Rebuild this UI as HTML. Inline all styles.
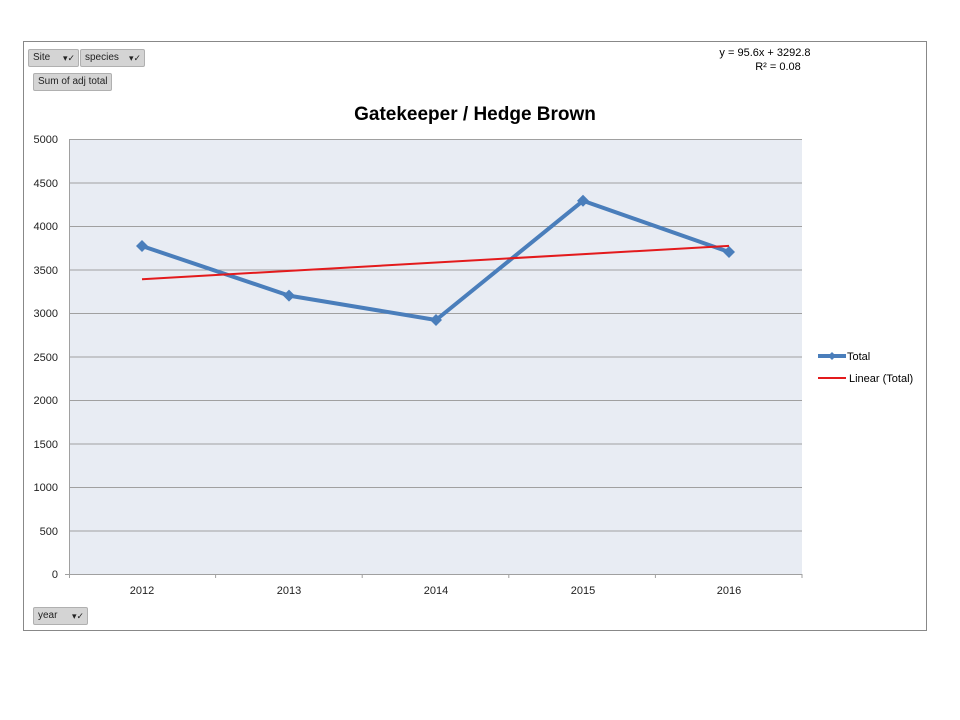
<!DOCTYPE html>
<html><head><style>
body{margin:0;background:#fff;width:960px;height:720px;position:relative;font-family:"Liberation Sans",sans-serif;overflow:hidden}
.b{position:absolute;background:#d4d4d4;border:1px solid #b0b0b0;border-radius:2px;font-size:10px;line-height:16px;padding-left:4px;box-sizing:border-box;color:#222}
.b i{position:absolute;right:3px;top:0;font-style:normal;font-size:9px}
</style></head><body>
<div style="position:absolute;left:23px;top:41px;width:904px;height:590px;border:1px solid #888;box-sizing:border-box"></div>
<div class="b" style="left:28px;top:49px;width:51px;height:18px">Site<i>▾✓</i></div>
<div class="b" style="left:80px;top:49px;width:65px;height:18px">species<i>▾✓</i></div>
<div class="b" style="left:33px;top:73px;width:79px;height:18px">Sum of adj total</div>
<div class="b" style="left:33px;top:607px;width:55px;height:18px">year<i>▾✓</i></div>
<svg width="960" height="720" style="position:absolute;left:0;top:0" font-family="Liberation Sans, sans-serif">
<text x="765" y="56" font-size="11" text-anchor="middle">y = 95.6x + 3292.8</text>
<text x="778" y="70" font-size="11" text-anchor="middle">R² = 0.08</text>
<text x="475" y="120" font-size="19" font-weight="bold" text-anchor="middle">Gatekeeper / Hedge Brown</text>
<rect x="69" y="139" width="733" height="435" fill="#e8ecf3"/>
<g stroke="#a0a0a0" stroke-width="1">
<line x1="69" x2="802" y1="139.5" y2="139.5"/><line x1="69" x2="802" y1="183" y2="183"/><line x1="69" x2="802" y1="226.5" y2="226.5"/><line x1="69" x2="802" y1="270" y2="270"/><line x1="69" x2="802" y1="313.5" y2="313.5"/><line x1="69" x2="802" y1="357" y2="357"/><line x1="69" x2="802" y1="400.5" y2="400.5"/><line x1="69" x2="802" y1="444" y2="444"/><line x1="69" x2="802" y1="487.5" y2="487.5"/><line x1="69" x2="802" y1="531" y2="531"/>
<line x1="69.5" x2="69.5" y1="139" y2="578"/><line x1="65" x2="802" y1="574.5" y2="574.5"/>
<line x1="215.6" x2="215.6" y1="574" y2="578"/><line x1="362.2" x2="362.2" y1="574" y2="578"/><line x1="508.8" x2="508.8" y1="574" y2="578"/><line x1="655.4" x2="655.4" y1="574" y2="578"/><line x1="802" x2="802" y1="574" y2="578"/>
</g>
<g font-size="11" text-anchor="end" fill="#222">
<text x="58" y="143">5000</text><text x="58" y="187">4500</text><text x="58" y="230">4000</text><text x="58" y="274">3500</text><text x="58" y="317">3000</text><text x="58" y="361">2500</text><text x="58" y="404">2000</text><text x="58" y="448">1500</text><text x="58" y="491">1000</text><text x="58" y="535">500</text><text x="58" y="578">0</text>
</g>
<g font-size="11" text-anchor="middle" fill="#222">
<text x="142" y="594">2012</text><text x="289" y="594">2013</text><text x="436" y="594">2014</text><text x="583" y="594">2015</text><text x="729" y="594">2016</text>
</g>
<polyline points="142,246 289,295.6 436,320 583,200.8 729,252" fill="none" stroke="#4a7ebb" stroke-width="4" stroke-linejoin="round"/>
<g fill="#4a7ebb">
<path d="M142,240 L148,246 L142,252 L136,246Z"/><path d="M289,289.6 L295,295.6 L289,301.6 L283,295.6Z"/><path d="M436,314 L442,320 L436,326 L430,320Z"/><path d="M583,194.8 L589,200.8 L583,206.8 L577,200.8Z"/><path d="M729,246 L735,252 L729,258 L723,252Z"/>
</g>
<line x1="142" y1="279.2" x2="729" y2="245.9" stroke="#e31a1c" stroke-width="2"/>
<line x1="818" y1="356" x2="846" y2="356" stroke="#4a7ebb" stroke-width="4"/>
<path d="M832,352 L836,356 L832,360 L828,356Z" fill="#4a7ebb"/>
<text x="847" y="360" font-size="11">Total</text>
<line x1="818" y1="378" x2="846" y2="378" stroke="#e31a1c" stroke-width="2"/>
<text x="849" y="382" font-size="11">Linear (Total)</text>
</svg>
</body></html>
